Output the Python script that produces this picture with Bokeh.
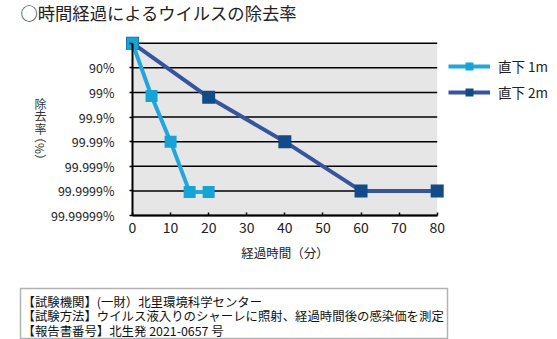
from bokeh.plotting import figure
from bokeh.models import Range1d, FixedTicker, Label, Legend, LegendItem, BoxAnnotation
from bokeh.embed import file_html
from bokeh.resources import INLINE

# ---- data ----
title_text = "○時間経過によるウイルスの除去率"
series_names = ["直下 1m", "直下 2m"]
time_1m = [0, 5, 10, 15, 20]
logred_1m = [0, 2.15, 4.0, 6.05, 6.05]
time_2m = [0, 20, 40, 60, 80]
logred_2m = [0, 2.2, 4.0, 6.0, 6.0]
y_ticks = [0, 1, 2, 3, 4, 5, 6, 7]
y_tick_labels = ["", "90%", "99%", "99.9%", "99.99%", "99.999%", "99.9999%", "99.99999%"]
x_ticks = [0, 10, 20, 30, 40, 50, 60, 70, 80]
x_title = "経過時間（分）"
y_title_chars = ["除", "去", "率"]
y_title_unit = "（%）"
notes = [
    "【試験機関】(一財）北里環境科学センター",
    "【試験方法】ウイルス液入りのシャーレに照射、経過時間後の感染価を測定",
    "【報告書番号】北生発 2021-0657 号",
]

FONT = "Noto Sans CJK JP"
C_LIGHT_LINE = "#22a6db"
C_LIGHT_MARK = "#18a3d6"
C_DARK_LINE = "#37559c"
C_DARK_MARK = "#134a88"

W, H = 557, 339
# plot area in pixels: x 132..436.7 for 0..80, y 42.7..215 for 0..7
px_x = (436.7 - 132.0) / (x_ticks[-1] - x_ticks[0])
px_y = (215.0 - 42.7) / (y_ticks[-1] - y_ticks[0])
xr = Range1d(-132.0 / px_x, x_ticks[-1] + (W - 436.7) / px_x)
yr = Range1d(y_ticks[-1] + (H - 215.0) / px_y, -42.7 / px_y)

p = figure(width=W, height=H, output_backend="svg", toolbar_location=None,
           x_range=xr, y_range=yr,
           min_border_left=0, min_border_right=0, min_border_top=0, min_border_bottom=0)
p.outline_line_color = None
p.background_fill_color = "white"
p.border_fill_color = "white"
p.xgrid.visible = False
p.ygrid.visible = False

# gray plot area
p.add_layout(BoxAnnotation(left=x_ticks[0], right=x_ticks[-1], top=y_ticks[0], bottom=y_ticks[-1],
                           fill_color="#e6e6e6", fill_alpha=1, line_color=None, level="underlay"))
# horizontal grid lines
n = len(y_ticks)
p.segment(x0=[x_ticks[0]] * n, x1=[x_ticks[-1]] * n, y0=y_ticks, y1=y_ticks,
          line_color="black", line_width=1.5)

# series
l2 = p.line(time_2m, logred_2m, line_color=C_DARK_LINE, line_width=4)
s2 = p.scatter(time_2m, logred_2m, marker="square", size=13, fill_color=C_DARK_MARK, line_color=None)
l1 = p.line(time_1m, logred_1m, line_color=C_LIGHT_LINE, line_width=4)
s1 = p.scatter(time_1m, logred_1m, marker="square", size=12, fill_color=C_LIGHT_MARK, line_color=None)

# axes
xa = p.xaxis[0]
xa.fixed_location = y_ticks[-1]
xa.bounds = (x_ticks[0], x_ticks[-1])
xa.ticker = FixedTicker(ticks=x_ticks)
xa.axis_line_color = "black"
xa.axis_line_width = 2
xa.major_tick_in = 3
xa.major_tick_out = 0
xa.major_tick_line_width = 1.5
xa.minor_tick_line_color = None
xa.major_label_text_font = FONT
xa.major_label_text_font_size = "14px"
xa.major_label_text_color = "#222222"
xa.major_label_standoff = 6
xa.axis_label = x_title
xa.axis_label_text_font = FONT
xa.axis_label_text_font_size = "12.5px"
xa.axis_label_text_font_style = "normal"
xa.axis_label_text_color = "#222222"
xa.axis_label_standoff = 7

ya = p.yaxis[0]
ya.fixed_location = x_ticks[0]
ya.bounds = (y_ticks[0], y_ticks[-1])
ya.ticker = FixedTicker(ticks=y_ticks)
ya.major_label_overrides = {t: s for t, s in zip(y_ticks, y_tick_labels)}
ya.axis_line_color = "black"
ya.axis_line_width = 2
ya.major_tick_in = 0
ya.major_tick_out = 3
ya.major_tick_line_width = 1.5
ya.minor_tick_line_color = None
ya.major_label_text_font = FONT
ya.major_label_text_font_size = "12.5px"
ya.major_label_text_color = "#222222"
ya.major_label_standoff = 15

# legend (location = bottom-left corner in screen px from the canvas bottom-left)
legend = Legend(items=[LegendItem(label=series_names[0], renderers=[l1, s1]),
                       LegendItem(label=series_names[1], renderers=[l2, s2])],
                location=(448, 237), orientation="vertical",
                glyph_width=42, glyph_height=20, label_height=20, spacing=6,
                padding=0, margin=0, border_line_color=None, background_fill_alpha=0,
                label_text_font=FONT, label_text_font_size="13.5px", label_standoff=8,
                label_text_color="#222222")
p.add_layout(legend, "center")

# title
p.add_layout(Label(x=20, y=H - 12, x_units="screen", y_units="screen", text=title_text,
                   text_font=FONT, text_font_size="17.3px", text_color="#222222",
                   text_align="left", text_baseline="middle"))
# y axis title (vertical writing)
p.add_layout(Label(x=40, y=H - 94, x_units="screen", y_units="screen", text="\n".join(y_title_chars),
                   text_font=FONT, text_font_size="12px", text_color="#333333",
                   text_align="center", text_baseline="top", text_line_height=0.74))
p.add_layout(Label(x=40, y=H - 148, x_units="screen", y_units="screen", text=y_title_unit,
                   text_font=FONT, text_font_size="12px", text_color="#333333", angle=-90,
                   angle_units="deg", text_align="center", text_baseline="middle"))
# notes box
p.add_layout(BoxAnnotation(left=20, right=447, top=H - 288, bottom=H - 338,
                           left_units="screen", right_units="screen", top_units="screen",
                           bottom_units="screen", fill_alpha=0, line_color="black", line_width=1.5))
p.add_layout(Label(x=22, y=H - 292.5, x_units="screen", y_units="screen", text="\n".join(notes),
                   text_font=FONT, text_font_size="12.4px", text_color="#111111",
                   text_align="left", text_baseline="top", text_line_height=0.8))

open("out.html", "w").write(file_html(p, INLINE))
